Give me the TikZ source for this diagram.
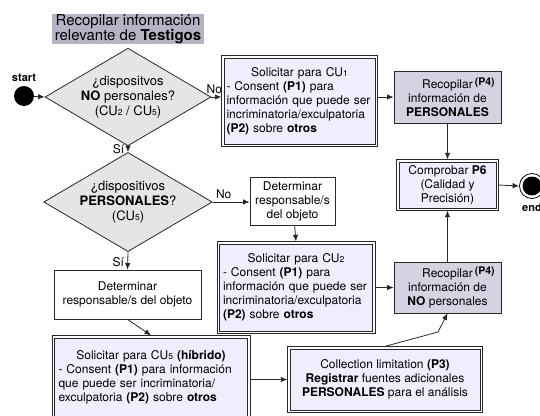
\documentclass[tikz,border=0pt]{standalone}
\usepackage{fontspec}
\setmainfont{TeX Gyre Heros}
\usetikzlibrary{shapes.geometric,arrows.meta}
\definecolor{ttlgray}{RGB}{180,180,196}
\definecolor{diagray}{RGB}{229,229,229}
\definecolor{lav}{RGB}{238,238,255}
\definecolor{recgray}{RGB}{211,211,225}
\definecolor{edge}{RGB}{40,40,40}
\newcommand{\cun}[1]{{\fontsize{8.5}{8.5}\selectfont#1}}
\newcommand{\pfour}{\rlap{\,\raisebox{0.55ex}{\fontsize{10.5}{10.5}\selectfont\bfseries(P4)}}}
\newcommand{\topline}[1]{\makebox[\linewidth][c]{#1}}
% outer line of a double frame
\newcommand{\dframe}[1]{\draw[edge,line width=0.7pt] ([shift={(-2.3pt,-2.3pt)}]#1.south west) rectangle ([shift={(2.3pt,2.3pt)}]#1.north east);}

\begin{document}
\begin{tikzpicture}[x=1pt,y=-1pt,
  >={Latex[length=6.5pt,width=5.5pt]},
  every node/.style={font=\fontsize{12}{14}\selectfont},
  link/.style={->,draw=edge,line width=0.8pt},
  ttl/.style={fill=ttlgray,inner xsep=2pt,inner ysep=0.5pt,align=center,font=\fontsize{15}{15}\selectfont},
  decision/.style={diamond,draw=edge,line width=0.8pt,fill=diagray,minimum width=155pt,minimum height=90pt,inner sep=0pt,shape aspect=1.7,align=center,font=\fontsize{13}{15}\selectfont},
  plain/.style={rectangle,draw=edge,line width=0.8pt,fill=white,align=center},
  solic/.style={rectangle,draw=edge,line width=0.7pt,fill=lav,align=left,inner xsep=5pt,text width=#1},
  check/.style={rectangle,draw=edge,line width=0.7pt,fill=lav,align=center},
  recop/.style={rectangle,draw=edge,line width=0.8pt,fill=recgray,align=center,minimum width=107pt,minimum height=52pt},
  tag/.style={font=\fontsize{11}{11}\selectfont\bfseries}]
  \useasboundingbox (0,0) rectangle (540,415);

  \node[ttl,minimum width=152pt,minimum height=30pt] (ttl) at (128,29) {Recopilar información\\relevante de \textbf{Testigos}};

  \node[circle,fill=black,minimum size=20pt,inner sep=0pt,label={[tag,label distance=1pt]above:start}] (start) at (24,96) {};
  \node[decision] (d1) at (128,97) {¿dispositvos\\\textbf{NO} personales?\\(CU\cun2 / CU\cun5)};
  \node[decision,minimum height=88pt] (d2) at (128,202) {¿dispositivos\\\textbf{PERSONALES}?\\(CU\cun5)};

  \node[solic=146pt,inner xsep=2.5pt,minimum height=86pt] (cu1) at (299.5,101) {\topline{Solicitar para CU\cun1}\\- Consent \textbf{(P1)} para\\información que puede ser\\incriminatoria/exculpatoria\\\textbf{(P2)} sobre \textbf{otros}};
  \dframe{cu1}
  \node[recop] (p4a) at (447.5,97) {Recopilar\pfour\\información de\\\textbf{PERSONALES}};
  \node[check,minimum width=97pt,minimum height=46pt] (p6) at (447.5,185) {Comprobar \textbf{P6}\\(Calidad y\\Precisión)};
  \dframe{p6}
  \node[circle,draw=black,line width=0.8pt,fill=white,minimum size=25pt,inner sep=0pt,label={[tag,label distance=1pt]below:end}] (endc) at (532,186) {};
  \fill[black] (endc.center) circle (9.5pt);

  \node[plain,minimum width=85pt,minimum height=48pt] (det1) at (292.5,201) {Determinar\\responsable/s\\del objeto};
  \node[solic=146pt,inner xsep=3.5pt,minimum height=87pt] (cu2) at (296,287.5) {\topline{Solicitar para CU\cun2}\\- Consent \textbf{(P1)} para\\información que puede ser\\incriminatoria/exculpatoria\\\textbf{(P2)} sobre \textbf{otros}};
  \dframe{cu2}
  \node[recop,minimum height=51pt] (p4b) at (447.5,287.5) {Recopilar\pfour\\información de\\\textbf{NO} personales};

  \node[plain,minimum width=147pt,minimum height=49pt] (det2) at (127.5,294.5) {Determinar\\responsable/s del objeto};
  \node[solic=185pt,inner xsep=4pt,minimum height=78pt] (cu5) at (151,377) {\topline{Solicitar para CU\cun5 \textbf{(híbrido)}}\\- Consent \textbf{(P1)} para información\\que puede ser incriminatoria/\\exculpatoria \textbf{(P2)} sobre \textbf{otros}};
  \dframe{cu5}
  \node[check,minimum width=190pt,minimum height=61pt] (coll) at (385,379.5) {Collection limitation \textbf{(P3)}\\\textbf{Registrar} fuentes adicionales\\\textbf{PERSONALES} para el análisis};
  \dframe{coll}
  \coordinate (knee) at (438,332);

  % connectors
  \draw[link] (start) -- (d1.west);
  \draw[link] (d1.east) -- node[above,pos=0.3,inner xsep=1pt]{No} ([xshift=-2.3pt]d1.east -| cu1.west);
  \draw[link] ([xshift=2.3pt]cu1.east |- p4a.west) -- (p4a.west);
  \draw[link] (p4a) -- ([yshift=2.3pt]p6.north);
  \draw[link] ([xshift=2.3pt]p6.east) -- (endc.west);
  \draw[link] (p4b) -- ([yshift=-2.3pt]p6.south);
  \draw[link] (d1.south) -- node[left,pos=0.55]{Sí} (d2.north);
  \draw[link] (d2.east) -- node[above,pos=0.3]{No} (d2.east -| det1.west);
  \draw[link] (det1) -- ([yshift=2.3pt]cu2.north);
  \draw[link] (d2.south) -- node[left,pos=0.55]{Sí} (det2.north);
  \draw[link] (det2.south) -- ([yshift=2.3pt]cu5.north);
  \draw[link] ([xshift=2.3pt]cu2.east |- p4b.west) -- (p4b.west);
  \draw[link] ([xshift=2.3pt]cu5.east |- coll.west) -- ([xshift=-2.3pt]coll.west);
  \draw[link] ([yshift=2.3pt]coll.north) -- (knee) -- (p4b.south);
\end{tikzpicture}
\end{document}
